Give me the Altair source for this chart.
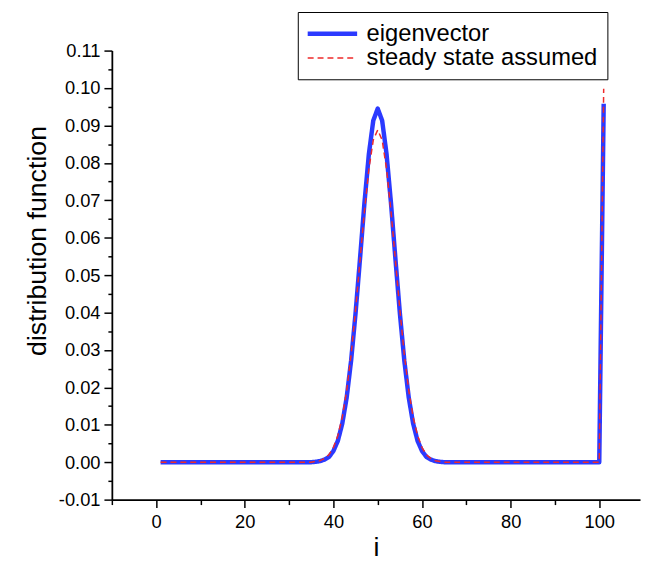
import altair as alt
import pandas as pd

# index of the distribution
i_values = list(range(1, 102))

# eigenvector (i = 1 .. 101)
eigenvector = [
    # i = 1 .. 34
    0.0, 0.0, 0.0, 0.0, 0.0, 0.0, 0.0, 0.0, 0.0, 0.0,
    0.0, 0.0, 0.0, 0.0, 0.0, 0.0, 0.0, 0.0, 0.0, 0.0,
    0.0, 0.0, 0.0, 0.0, 0.0, 0.0, 0.0, 0.0, 0.0, 0.0,
    0.0, 0.0, 0.0, 0.0,
    # i = 35 .. 65
    0.0000, 0.0001, 0.0003, 0.0007, 0.0014, 0.0030, 0.0057, 0.0103,
    0.0173, 0.0272, 0.0398, 0.0543, 0.0692, 0.0823, 0.0913, 0.0945,
    0.0913, 0.0823, 0.0692, 0.0543, 0.0398, 0.0272, 0.0173, 0.0103,
    0.0057, 0.0030, 0.0014, 0.0007, 0.0003, 0.0001, 0.0000,
    # i = 66 .. 100
    0.0, 0.0, 0.0, 0.0, 0.0, 0.0, 0.0, 0.0, 0.0, 0.0,
    0.0, 0.0, 0.0, 0.0, 0.0, 0.0, 0.0, 0.0, 0.0, 0.0,
    0.0, 0.0, 0.0, 0.0, 0.0, 0.0, 0.0, 0.0, 0.0, 0.0,
    0.0, 0.0, 0.0, 0.0, 0.0,
    # i = 101
    0.0958,
]

# steady state assumed (i = 1 .. 101)
steady_state = [
    # i = 1 .. 34
    0.0, 0.0, 0.0, 0.0, 0.0, 0.0, 0.0, 0.0, 0.0, 0.0,
    0.0, 0.0, 0.0, 0.0, 0.0, 0.0, 0.0, 0.0, 0.0, 0.0,
    0.0, 0.0, 0.0, 0.0, 0.0, 0.0, 0.0, 0.0, 0.0, 0.0,
    0.0, 0.0, 0.0, 0.0,
    # i = 35 .. 65
    0.0000, 0.0002, 0.0004, 0.0010, 0.0020, 0.0039, 0.0071, 0.0120,
    0.0192, 0.0288, 0.0407, 0.0539, 0.0670, 0.0783, 0.0861, 0.0888,
    0.0861, 0.0783, 0.0670, 0.0539, 0.0407, 0.0288, 0.0192, 0.0120,
    0.0071, 0.0039, 0.0020, 0.0010, 0.0004, 0.0002, 0.0000,
    # i = 66 .. 100
    0.0, 0.0, 0.0, 0.0, 0.0, 0.0, 0.0, 0.0, 0.0, 0.0,
    0.0, 0.0, 0.0, 0.0, 0.0, 0.0, 0.0, 0.0, 0.0, 0.0,
    0.0, 0.0, 0.0, 0.0, 0.0, 0.0, 0.0, 0.0, 0.0, 0.0,
    0.0, 0.0, 0.0, 0.0, 0.0,
    # i = 101
    0.0998,
]

series_names = ["eigenvector", "steady state assumed"]
series_colors = ["#2b3aff", "#ee2a2a"]
series_widths = [4.5, 1.5]
series_dashes = [[1, 0], [6, 4]]

x_ticks = [-10, 0, 10, 20, 30, 40, 50, 60, 70, 80, 90, 100, 110]
y_ticks = [-0.01, -0.005, 0.0, 0.005, 0.01, 0.015, 0.02, 0.025, 0.03, 0.035,
           0.04, 0.045, 0.05, 0.055, 0.06, 0.065, 0.07, 0.075, 0.08, 0.085,
           0.09, 0.095, 0.10, 0.105, 0.11]

rows = []
for name, vals in zip(series_names, [eigenvector, steady_state]):
    for xi, v in zip(i_values, vals):
        rows.append({"i": xi, "value": v, "series": name})
df = pd.DataFrame(rows)

FONT = "Liberation Sans"

legend = alt.Legend(
    orient="none",
    legendX=188,
    legendY=-39,
    title=None,
    labelFont=FONT,
    labelFontSize=24,
    labelColor="black",
    labelLimit=400,
    symbolType="M-2.5,0H2.5",
    symbolSize=400,
    symbolOffset=13,
    labelOffset=22,
    padding=9.5,
    rowPadding=0,
    strokeColor="black",
    fillColor="white",
)

chart = alt.Chart(df).mark_line(strokeJoin="round").encode(
    x=alt.X(
        "i:Q",
        scale=alt.Scale(domain=[-10, 109.2], nice=False, zero=False),
        axis=alt.Axis(
            values=x_ticks,
            title="i",
            labelExpr="datum.value >= 0 && datum.value <= 100 && datum.value % 20 == 0 ? datum.label : ''",
            tickSize={"condition": {"test": "datum.value % 20 != 0", "value": 5}, "value": 8},
            labelPadding=5,
            titleX=267,
            titleY=56,
            titleAlign="center",
            titleBaseline="alphabetic",
        ),
    ),
    y=alt.Y(
        "value:Q",
        scale=alt.Scale(domain=[-0.01, 0.11], nice=False, zero=False),
        axis=alt.Axis(
            values=y_ticks,
            title="distribution function",
            labelExpr="abs(round(datum.value*1000)) % 10 == 0 ? replace(format(datum.value, '.2f'), '\u2212', '-') : ''",
            tickSize={"condition": {"test": "abs(round(datum.value*1000)) % 10 != 0", "value": 4}, "value": 8},
            labelPadding=4,
            titleAngle=270,
            titleX=-67,
            titleY=192,
            titleAlign="center",
            titleBaseline="alphabetic",
        ),
    ),
    color=alt.Color(
        "series:N",
        scale=alt.Scale(domain=series_names, range=series_colors),
        legend=legend,
    ),
    strokeWidth=alt.StrokeWidth(
        "series:N",
        scale=alt.Scale(domain=series_names, range=series_widths),
        legend=legend,
    ),
    strokeDash=alt.StrokeDash(
        "series:N",
        scale=alt.Scale(domain=series_names, range=series_dashes),
        legend=legend,
    ),
).properties(
    width=534,
    height=454,
    autosize=alt.AutoSizeParams(type="none"),
    padding={"left": 105, "top": 40, "right": 2, "bottom": 60},
    background="white",
).configure_view(
    stroke=None,
).configure_axis(
    grid=False,
    domainColor="black",
    domainWidth=1.8,
    tickColor="black",
    tickWidth=1.5,
    labelColor="black",
    labelFont=FONT,
    labelFontSize=18.5,
    titleColor="black",
    titleFont=FONT,
    titleFontSize=27,
    titleFontWeight="normal",
)

chart.save("out.html", embed_options={"renderer": "svg", "actions": False})
